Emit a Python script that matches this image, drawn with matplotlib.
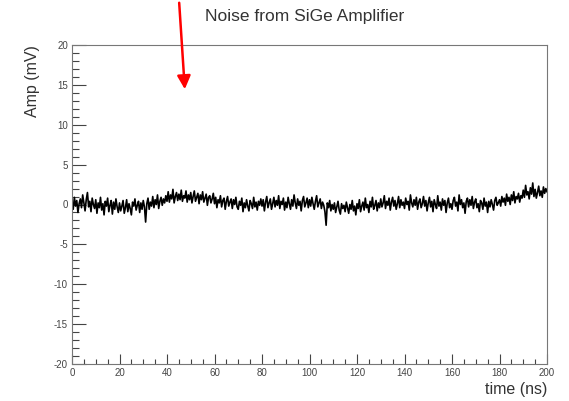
import numpy as np
import matplotlib
matplotlib.use("Agg")
import matplotlib.pyplot as plt
from matplotlib.patches import FancyArrowPatch
from matplotlib.ticker import MultipleLocator

plt.rcParams['font.family'] = ['Liberation Sans', 'DejaVu Sans']
plt.rcParams['axes.unicode_minus'] = False

# amplitude samples (mV), one every 0.5 ns from 0 to 200 ns
amp = [
    0.3, -0.6, 0.9, -0.2, 0.5, -1.0, 0.1, 0.7, -0.4, 1.2, 0.2, -0.8, 0.6, 1.5, -0.3, 0.4, -0.9, 0.8, 0.0, -0.5,
    0.6, -1.1, 0.2, -0.4, 0.9, -0.7, 0.1, -1.3, 0.4, -0.2, 0.8, -0.9, -0.1, 0.5, -1.2, 0.3, -0.6, 0.7, -0.3, -1.0,
    0.2, -0.8, -0.2, 0.5, -1.1, -0.4, 0.6, -0.9, 0.1, -0.5, -1.3, 0.3, -0.2, 0.7, -0.7, -0.1, 0.4, -1.0, 0.2, -0.6,
    0.5, -0.3, -2.2, 0.1, 0.8, -0.6, 0.3, -0.2, 1.0, -0.4, 0.6, 0.0, 1.2, -0.5, 0.4, 0.9, -0.1, 0.7, 0.2, 1.1,
    0.4, 1.6, 0.3, 1.2, 0.7, 1.9, 0.2, 1.0, 1.5, 0.5, 1.3, 0.6, 1.8, 0.4, 1.1, 0.8, 1.7, 0.3, 1.2, 0.6,
    1.5, 0.2, 1.0, 1.7, 0.4, 0.9, 1.4, 0.1, 1.2, 0.6, 1.6, 0.3, 0.8, 1.3, -0.1, 0.9, 1.1, 0.2, 0.7, 1.4,
    0.1, 0.9, -0.4, 0.6, 0.2, 1.1, -0.3, 0.5, 0.8, -0.6, 0.4, 1.0, -0.2, 0.3, 0.7, -0.5, 0.6, 0.0, 0.9, -0.3,
    -0.6, 0.4, -0.1, 0.8, -0.9, 0.2, -0.4, 0.6, -0.2, -0.8, 0.5, 0.1, -0.5, 0.9, -0.3, 0.3, -0.7, 0.4, -0.1, 0.7,
    -0.2, 0.6, -0.8, 0.3, 1.0, -0.4, 0.2, 0.7, -0.6, 0.1, 0.9, -0.3, 0.5, -0.1, 1.1, -0.5, 0.4, 0.0, 0.8, -0.7,
    0.3, -0.4, 0.9, 0.1, -0.6, 0.6, -0.2, 1.2, 0.2, -0.5, 0.7, -0.1, 0.4, -0.8, 0.5, 1.0, -0.3, 0.2, 0.8, -0.4,
    0.6, -0.2, 0.9, 0.1, -0.6, 0.4, 1.1, -0.3, 0.2, 0.7, -0.5, 0.3, -0.1, -0.9, -2.6, 0.2, -0.4, 0.5, -0.8, 0.0,
    -0.6, 0.2, -1.0, -0.3, 0.4, -0.7, -1.2, 0.1, -0.5, -0.1, -0.9, 0.3, -0.4, -1.1, 0.0, -0.6, 0.5, -0.8, -0.2, -1.3,
    0.1, -0.5, 0.6, -0.9, -0.2, 0.3, -0.7, 0.8, -0.4, 0.0, -1.0, 0.4, -0.3, 0.9, -0.6, -0.1, 0.5, -0.8, 0.2, -0.4,
    0.7, -0.3, 0.2, 1.1, -0.5, 0.4, -0.1, 0.8, -0.7, 0.3, 0.9, -0.2, 0.5, -0.6, 0.1, 1.0, -0.4, 0.6, -0.1, 0.3,
    -0.5, 0.8, 0.0, 0.4, -0.7, 1.2, 0.2, -0.3, 0.6, -0.1, 0.9, -0.6, 0.3, 0.7, -0.4, 0.1, 1.0, -0.2, 0.5, -0.8,
    0.2, 0.9, -0.3, 0.4, -0.9, 0.6, 0.0, -0.5, 1.1, -0.2, 0.3, -0.7, 0.7, -0.1, 0.5, -1.0, 0.2, 0.8, -0.4, 0.1,
    -0.6, 0.5, 0.9, -0.2, 0.3, -0.8, 1.2, 0.0, 0.6, -0.4, 0.2, -1.1, 0.4, 0.8, -0.3, 0.6, -0.1, 1.0, -0.5, 0.3,
    0.7, -0.4, 0.1, -0.9, 0.5, 0.2, -0.6, 0.8, -0.2, 0.3, -1.0, 0.4, -0.3, 0.6, 0.0, -0.7, 0.5, 0.9, -0.1, 0.2,
    0.6, -0.2, 1.0, 0.3, 0.8, -0.1, 1.3, 0.4, 0.9, 0.0, 1.2, 0.5, 1.6, 0.2, 1.0, 0.7, 1.4, 0.3, 1.1, 0.8,
    1.8, 0.9, 2.4, 1.2, 1.6, 0.7, 2.1, 1.3, 2.7, 1.0, 1.9, 0.8, 1.5, 2.3, 1.1, 1.7, 0.9, 2.2, 1.4, 2.0, 1.6,
]
time = np.arange(len(amp)) * 0.5

title = "Noise from SiGe Amplifier"
xlabel = "time (ns)"
ylabel = "Amp (mV)"

fig = plt.figure(figsize=(5.69, 4.01), dpi=100)
ax = fig.add_axes([72 / 569, 1 - 364 / 401, (547 - 72) / 569, (364 - 45) / 401])

ax.plot(time, amp, color="black", lw=1.2)

ax.set_xlim(0, 200)
ax.set_ylim(-20, 20)
ax.xaxis.set_major_locator(MultipleLocator(20))
ax.xaxis.set_minor_locator(MultipleLocator(5))
ax.yaxis.set_major_locator(MultipleLocator(5))
ax.yaxis.set_minor_locator(MultipleLocator(1))

for s in ax.spines.values():
    s.set_color("#777777")
    s.set_linewidth(0.8)

ax.tick_params(which="both", direction="in", top=False, right=False,
               labelsize=7, labelcolor="#444444", color="#444444", width=0.8)
# ROOT style: tick length scales with the other axis
ax.tick_params(axis="x", which="major", length=6.9, pad=3)
ax.tick_params(axis="x", which="minor", length=3.5)
ax.tick_params(axis="y", which="major", length=10.3, pad=3)
ax.tick_params(axis="y", which="minor", length=5.1)

ax.set_xlabel(xlabel, fontsize=11.5, loc="right", labelpad=3, color="#333333")
ax.set_ylabel(ylabel, fontsize=11.5, loc="top", labelpad=10, color="#333333")

fig.text(304.5 / 569, 1 - 17 / 401, title, fontsize=12.5, ha="center", va="center", color="#333333")

# red arrow pointing down at the trace region
fig.add_artist(FancyArrowPatch(
    (179 / 569, 1.0), (185 / 569, 1 - 92 / 401), transform=fig.transFigure,
    arrowstyle="-|>,head_length=5,head_width=2.5", color="red", lw=1.8,
    mutation_scale=1.6))

fig.savefig("out.png", dpi=100)
